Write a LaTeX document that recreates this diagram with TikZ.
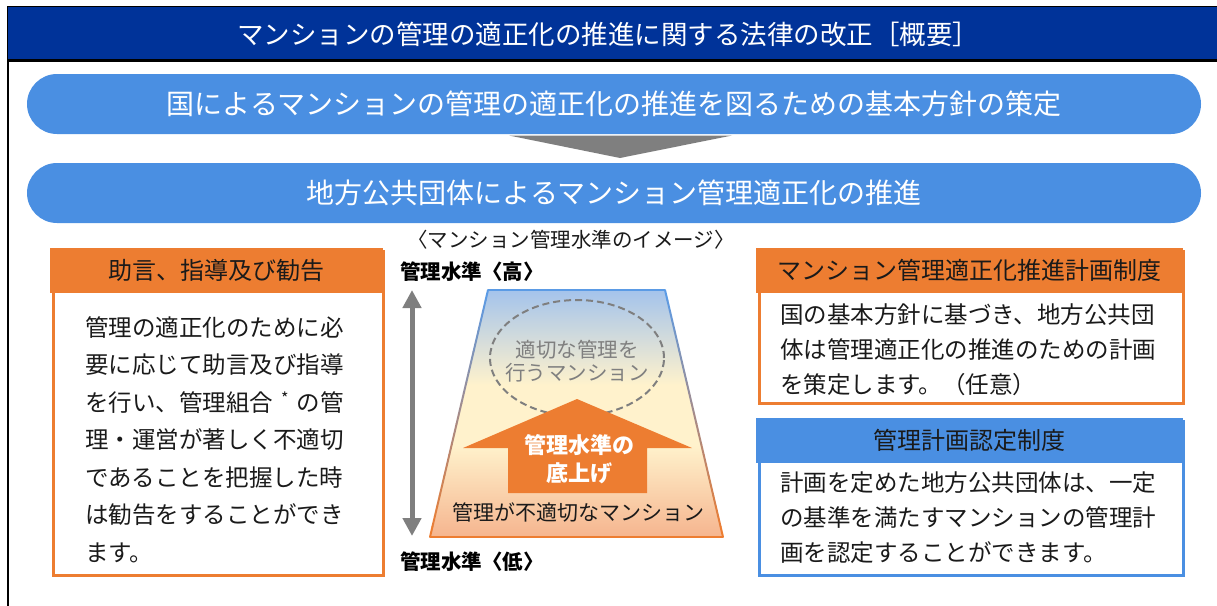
\documentclass[tikz,border=0pt]{standalone}
\usepackage{fontspec}
\newfontfamily\jp{Noto Sans CJK JP}
\usetikzlibrary{arrows.meta,calc}
\definecolor{titleblue}{HTML}{003399}
\definecolor{pillblue}{HTML}{4A8FE2}
\definecolor{orng}{HTML}{ED7D31}
\definecolor{midgray}{HTML}{7F7F7F}
\definecolor{txt}{HTML}{1A1A1A}
\definecolor{trtop}{HTML}{A3C3EC}
\definecolor{trmid}{HTML}{FFF2CC}
\definecolor{trbot}{HTML}{F5B48E}
\definecolor{edgeblue}{HTML}{5B9BE5}
\begin{document}
\begin{tikzpicture}[x=1pt,y=-1pt,
  pill/.style={fill=pillblue,rounded corners=30pt,minimum width=1174pt,minimum height=60pt,inner sep=0pt,text=white,font=\jp\fontsize{28}{32}\selectfont},
  boxframe/.style={line width=3pt,minimum width=424pt,inner sep=0pt,anchor=north west},
  boxhead/.style={minimum height=45pt,inner sep=0pt,anchor=north west,text=txt,font=\jp\fontsize{24}{28}\selectfont},
  bodytext/.style={anchor=west,align=left,inner sep=0pt,text=txt,font=\jp\fontsize{23.5}{35}\selectfont},
  lbl/.style={inner sep=0pt,font=\jp\fontsize{20.5}{23}\selectfont}
]
\useasboundingbox (0,0) rectangle (1217,605);
% frame and title bar
\draw[line width=2.5pt,black] (8,640) -- (8,7) -- (1240,7);
\fill[titleblue] (8,7) rectangle (1240,60.5);
\draw[line width=2.5pt,black] (8,60.5) -- (1240,60.5);
\node[inner sep=0pt,text=white,font=\jp\fontsize{26.5}{30}\selectfont] (title) at (608,34) {マンションの管理の適正化の推進に関する法律の改正［概要］};
% pills
\node[pill] (p1) at (614,104) {国によるマンションの管理の適正化の推進を図るための基本方針の策定};
\node[pill] (p2) at (614,193) {地方公共団体によるマンション管理適正化の推進};
\fill[midgray] (509,135.5) -- (732,135.5) -- (620,158) -- cycle;
% left box
\node[boxframe,draw=orng,minimum width=330pt,minimum height=324pt] (lbox) at (51.5,249.5) {};
\node[boxhead,fill=orng,minimum width=333pt] (lhead) at (50,248) {助言、指導及び勧告};
\node[bodytext,font=\jp\fontsize{23.5}{37.5}\selectfont] (lbody) at (85,439.5) {管理の適正化のために必\\要に応じて助言及び指導\\を行い、管理組合\makebox[1em][c]{\raisebox{0.28em}{\fontsize{16}{16}\selectfont *}}の管\\理・運営が著しく不適切\\であることを把握した時\\は勧告をすることができ\\ます。};
% right orange box
\node[boxframe,draw=orng,minimum height=152pt] (rbox) at (757.5,249.5) {};
\node[boxhead,fill=orng,minimum width=427pt] (rhead) at (756,248) {マンション管理適正化推進計画制度};
\node[bodytext] (rbody) at (780,350) {国の基本方針に基づき、地方公共団\\体は管理適正化の推進のための計画\\を策定します。（任意）};
% right blue box
\node[boxframe,draw=pillblue,minimum height=154pt] (bbox) at (757.5,419.5) {};
\node[boxhead,fill=pillblue,minimum width=427pt] (bhead) at (756,418) {管理計画認定制度};
\node[bodytext] (bbody) at (780,518) {計画を定めた地方公共団体は、一定\\の基準を満たすマンションの管理計\\画を認定することができます。};
% center image
\node[lbl,text=txt] (cap) at (571,240) {〈マンション管理水準のイメージ〉};
\node[lbl,text=black,anchor=west,font=\jp\bfseries\fontsize{20.5}{23}\selectfont] (hi) at (400,272) {管理水準〈高〉};
\node[lbl,text=black,anchor=west,font=\jp\bfseries\fontsize{20.5}{23}\selectfont] (lo) at (400,562) {管理水準〈低〉};
\coordinate (tl) at (488,290);
\coordinate (tr) at (665,290);
\coordinate (br) at (723,537);
\coordinate (bl) at (430,537);
\begin{scope}
  \clip (tl) -- (tr) -- (br) -- (bl) -- cycle;
  \shade[top color=trtop,bottom color=trmid] (420,289) rectangle (730,385);
  \fill[trmid] (420,384.5) rectangle (730,445.5);
  \shade[top color=trmid,bottom color=trbot] (420,445) rectangle (730,538);
\end{scope}
\draw[line width=2pt,edgeblue] (tl) -- (tr);
\draw[line width=2pt,orng] (bl) -- (br);
\foreach \i in {0,...,23}{
  \pgfmathtruncatemacro\t{100*\i/23}
  \pgfmathtruncatemacro\u{100-\t}
  \draw[line width=2pt,line cap=round,edgeblue!\u!orng] ($(tl)!\i/24!(bl)$) -- ($(tl)!\i/24+1/24!(bl)$);
  \draw[line width=2pt,line cap=round,edgeblue!\u!orng] ($(tr)!\i/24!(br)$) -- ($(tr)!\i/24+1/24!(br)$);
}
\draw[midgray,line width=2pt,dash pattern=on 7pt off 4pt] (577,358) ellipse [x radius=87pt,y radius=58pt];
\node[lbl,text=midgray,align=center,font=\jp\fontsize{20.5}{23}\selectfont] (good) at (577,361.5) {適切な管理を\\行うマンション};
\fill[orng] (577,399) -- (692,448) -- (647,448) -- (647,493) -- (508,493) -- (508,448) -- (463,448) -- cycle;
\node[lbl,text=white,align=center,font=\jp\bfseries\fontsize{22}{28}\selectfont] (raise) at (579,459) {管理水準の\\底上げ};
\node[lbl,text=txt,font=\jp\fontsize{21}{24}\selectfont] (bad) at (578,512) {管理が不適切なマンション};
\coordinate (vt) at (412,290);
\coordinate (vb) at (412,536);
\draw[midgray,line width=5pt,{Triangle[width=18pt,length=18pt]}-{Triangle[width=18pt,length=18pt]}] (vt) -- (vb);
\end{tikzpicture}
\end{document}
